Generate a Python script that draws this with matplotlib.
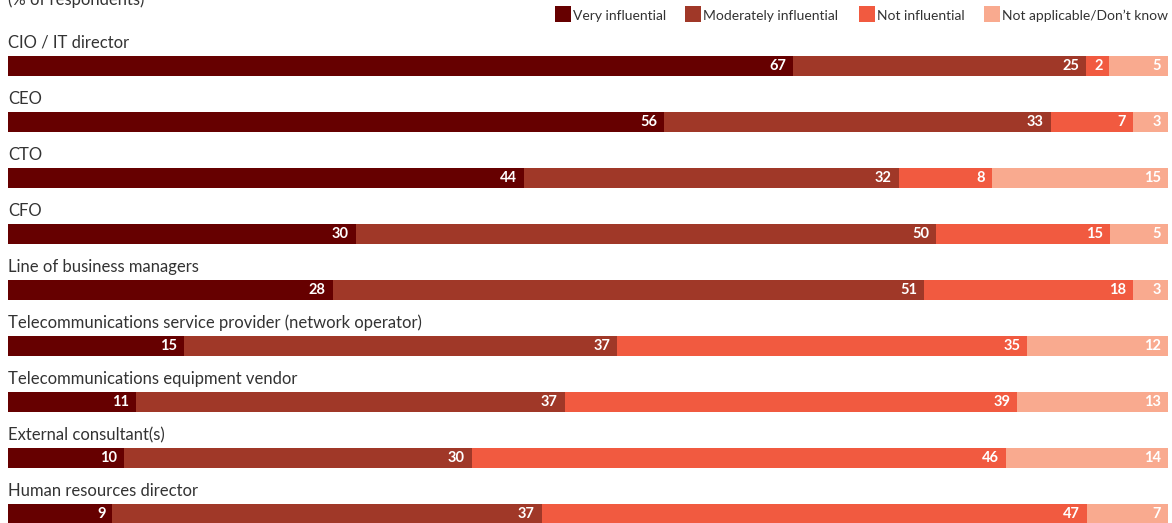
import matplotlib
matplotlib.use("Agg")
import matplotlib.pyplot as plt
from matplotlib.patches import Rectangle
import numpy as np

categories = [
    "CIO / IT director",
    "CEO",
    "CTO",
    "CFO",
    "Line of business managers",
    "Telecommunications service provider (network operator)",
    "Telecommunications equipment vendor",
    "External consultant(s)",
    "Human resources director",
]
series_names = ["Very influential", "Moderately influential", "Not influential",
                "Not applicable/Don\u2019t know"]
very_influential = [67, 56, 44, 30, 28, 15, 11, 10, 9]
moderately_influential = [25, 33, 32, 50, 51, 37, 37, 30, 37]
not_influential = [2, 7, 8, 15, 18, 35, 39, 46, 47]
not_applicable = [5, 3, 15, 5, 3, 12, 13, 14, 7]

colors = ["#660000", "#a03828", "#f15a40", "#f9aa8f"]
text_color = "#333333"
FONT = "Lato"

W, H = 1172, 523
fig = plt.figure(figsize=(W / 100, H / 100), dpi=100)
ax = fig.add_axes([0, 0, 1, 1])
ax.set_axis_off()

# x: 0..100 % mapped onto pixels 8..1168 ; y in pixels from the top
left_px, right_px = 8, 1168
scale = (right_px - left_px) / 100.0
ax.set_xlim(-left_px / scale, (W - left_px) / scale)
ax.set_ylim(H, 0)

values = np.array([very_influential, moderately_influential,
                   not_influential, not_applicable], dtype=float)
totals = values.sum(axis=0)
shares = values / totals * 100

row_top0, row_step, bar_h = 56, 56, 20
for i, cat in enumerate(categories):
    top = row_top0 + i * row_step
    yc = top + bar_h / 2
    ax.text(0, top - 8, cat, fontsize=12, family=FONT, color=text_color,
            ha="left", va="baseline")
    left = 0.0
    for s in range(4):
        w = shares[s, i]
        ax.barh(yc, w, left=left, height=bar_h, color=colors[s], linewidth=0)
        ax.text(left + w - 7 / scale, yc + 0.5, f"{int(values[s, i])}",
                fontsize=10.5, family=FONT, fontweight="bold", color="white",
                ha="right", va="center")
        left += w

# subtitle
fig.text(left_px / W, 1 - 5 / H, "(% of respondents)", fontsize=12,
         family=FONT, color=text_color, ha="left", va="baseline")

# legend
sq_x = [555, 685, 859, 984]
for s, name in enumerate(series_names):
    fig.patches.append(Rectangle((sq_x[s] / W, 1 - 22 / H), 16 / W, 16 / H,
                                 transform=fig.transFigure,
                                 facecolor=colors[s], edgecolor="none"))
    fig.text((sq_x[s] + 18) / W, 1 - 19.5 / H, name, fontsize=10,
             family=FONT, color=text_color, ha="left", va="baseline")

fig.savefig("out.png", dpi=100)
